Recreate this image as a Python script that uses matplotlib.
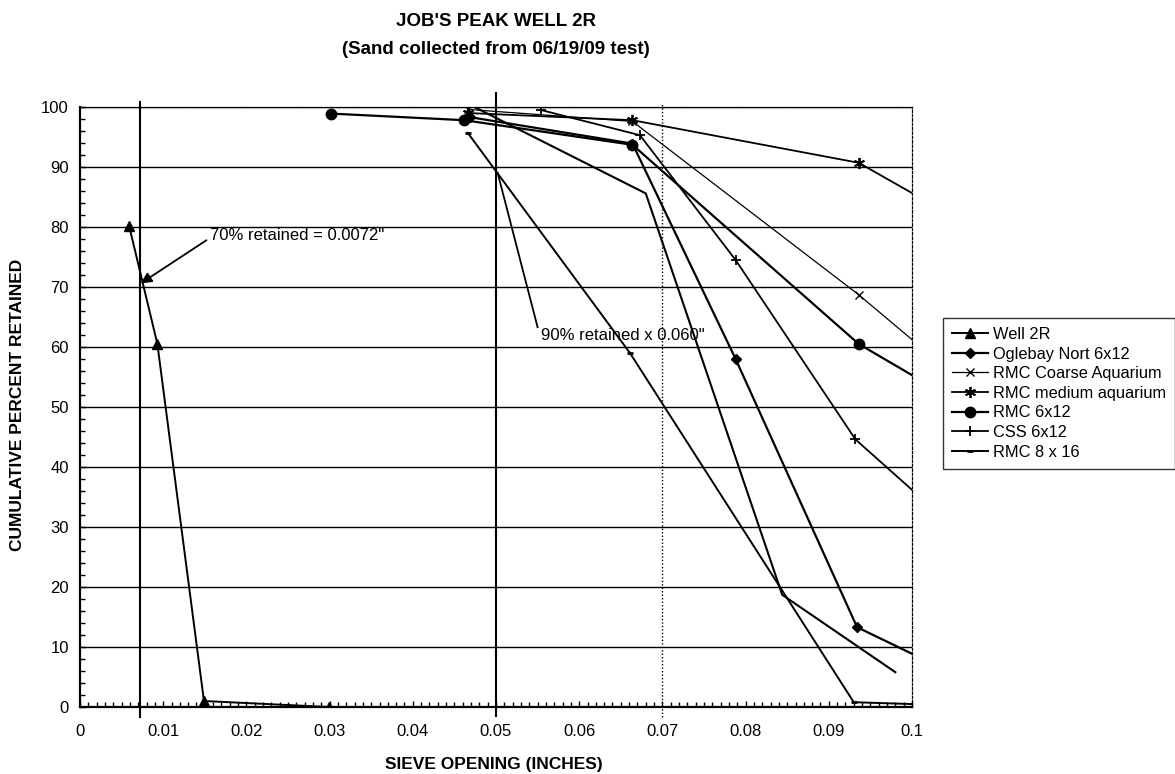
import matplotlib
matplotlib.use("Agg")
import matplotlib.pyplot as plt
from matplotlib.ticker import FixedLocator, MultipleLocator

plt.rcParams["font.family"] = ["Liberation Sans", "DejaVu Sans"]

# sieve opening (inches) vs cumulative percent retained
well_2r_x = [0.0059, 0.0093, 0.0149, 0.0299]
well_2r_y = [80.2, 60.5, 1.0, 0.0]

oglebay_x = [0.0469, 0.0664, 0.0788, 0.0934, 0.111]
oglebay_y = [98.3, 93.9, 58.0, 13.3, 1.5]

rmc_coarse_x = [0.0466, 0.0664, 0.0936, 0.111]
rmc_coarse_y = [99.6, 97.6, 68.7, 48.4]

rmc_medium_x = [0.0466, 0.0664, 0.0936, 0.111]
rmc_medium_y = [99.0, 97.8, 90.7, 77.0]

rmc_6x12_x = [0.0302, 0.0462, 0.0664, 0.0936, 0.111]
rmc_6x12_y = [98.9, 97.8, 93.7, 60.5, 46.4]

css_6x12_x = [0.0554, 0.0673, 0.0788, 0.0932, 0.111]
css_6x12_y = [99.5, 95.3, 74.5, 44.6, 22.6]

rmc_8x16_x = [0.0466, 0.0661, 0.0930, 0.111]
rmc_8x16_y = [95.7, 59.0, 0.8, 0.0]

# unlabelled curve on the original sheet
extra_x = [0.0474, 0.0680, 0.0844, 0.0980]
extra_y = [100.0, 85.6, 18.7, 5.8]

x_ticks = [0.0, 0.01, 0.02, 0.03, 0.04, 0.05, 0.06, 0.07, 0.08, 0.09, 0.1]
x_tick_labels = ["0", "0.01", "0.02", "0.03", "0.04", "0.05", "0.06", "0.07", "0.08", "0.09", "0.1"]
y_ticks = [0, 10, 20, 30, 40, 50, 60, 70, 80, 90, 100]

d70_x = 0.0072
d90_x = 0.050
guide_x = 0.070


def draw_series(ax):
    handles = []
    series = [
        ("Well 2R", well_2r_x, well_2r_y, dict(marker="^", ms=6.5, lw=1.4)),
        ("Oglebay Nort 6x12", oglebay_x, oglebay_y, dict(marker="D", ms=5, lw=1.6)),
        ("RMC Coarse Aquarium", rmc_coarse_x, rmc_coarse_y, dict(marker="x", ms=6, mew=1.0, lw=0.9)),
        ("RMC medium aquarium", rmc_medium_x, rmc_medium_y, dict(marker=(6, 2, 0), ms=8, mew=1.3, lw=1.3)),
        ("RMC 6x12", rmc_6x12_x, rmc_6x12_y, dict(marker="o", ms=7.5, lw=1.6)),
        ("CSS 6x12", css_6x12_x, css_6x12_y, dict(marker="+", ms=7, mew=1.3, lw=1.3)),
        ("RMC 8 x 16", rmc_8x16_x, rmc_8x16_y, dict(marker="_", ms=5, mew=2.0, lw=1.4)),
    ]
    for label, xs, ys, style in series:
        (ln,) = ax.plot(xs, ys, color="black", label=label, **style)
        handles.append(ln)

    ax.plot(extra_x, extra_y, color="black", lw=1.5)
    return handles


def draw_guides(ax):
    # vertical reference lines (they run a little past the plot frame)
    ax.plot([d70_x, d70_x], [-1.7, 100.8], color="black", lw=1.5, clip_on=False)
    ax.plot([d90_x, d90_x], [-1.5, 102.3], color="black", lw=1.5, clip_on=False)
    ax.plot([guide_x, guide_x], [-1.7, 100.7], color="black", lw=1.0,
            linestyle=(0, (1, 1.5)), clip_on=False)

    ax.annotate(
        "",
        xy=(0.0073, 70.6),
        xytext=(0.0152, 77.8),
        arrowprops=dict(arrowstyle="-|>", color="black", lw=1.3, mutation_scale=16,
                        shrinkA=0, shrinkB=0),
    )
    ax.text(0.0156, 78.6, "70% retained = 0.0072\"", fontsize=12, va="center", ha="left")

    ax.plot([0.0550, 0.0502], [63.3, 89.0], color="black", lw=1.3)
    ax.text(0.0554, 62.0, "90% retained x 0.060\"", fontsize=12, va="center", ha="left")


def style_axes(ax):
    ax.set_xlim(0, 0.1)
    ax.set_ylim(0, 100)

    ax.xaxis.set_major_locator(FixedLocator(x_ticks))
    ax.set_xticklabels(x_tick_labels)
    ax.yaxis.set_major_locator(FixedLocator(y_ticks))
    ax.xaxis.set_minor_locator(MultipleLocator(0.001))
    ax.yaxis.set_minor_locator(MultipleLocator(2))

    ax.tick_params(axis="both", which="major", direction="in", length=4, width=1.0,
                   labelsize=12)
    ax.tick_params(axis="both", which="minor", direction="in", length=3.5, width=1.0)
    ax.tick_params(axis="x", which="major", pad=12)
    ax.tick_params(axis="y", which="major", pad=8)

    ax.yaxis.grid(True, color="black", lw=1.0)
    ax.set_axisbelow(True)

    ax.spines["left"].set_linewidth(1.6)
    ax.spines["bottom"].set_linewidth(1.6)
    ax.spines["top"].set_linewidth(0.9)
    ax.spines["top"].set_linestyle((0, (6, 1.5)))
    ax.spines["right"].set_linewidth(0.9)
    ax.spines["right"].set_linestyle((0, (2, 1.5)))


def main() -> None:
    fig = plt.figure(figsize=(11.75, 7.74), dpi=100)
    ax = fig.add_axes([80 / 1175, 1 - 707 / 774, 832 / 1175, 600 / 774])

    handles = draw_series(ax)
    draw_guides(ax)
    style_axes(ax)

    fig.text(496 / 1175, 1 - 22 / 774, "JOB'S PEAK WELL 2R", ha="center", va="center",
             fontsize=13.5, fontweight="bold")
    fig.text(496 / 1175, 1 - 50 / 774, "(Sand collected from 06/19/09 test)", ha="center",
             va="center", fontsize=13.5, fontweight="bold")
    fig.text(494 / 1175, 1 - 764 / 774, "SIEVE OPENING (INCHES)", ha="center", va="center",
             fontsize=12.5, fontweight="bold")
    fig.text(18 / 1175, 1 - 405 / 774, "CUMULATIVE PERCENT RETAINED", ha="center",
             va="center", rotation=90, fontsize=12.5, fontweight="bold")

    leg = fig.legend(
        handles=handles,
        loc="upper left",
        bbox_to_anchor=(943 / 1175, 1 - 318 / 774),
        fontsize=11.8,
        frameon=True,
        fancybox=False,
        edgecolor="black",
        handlelength=2.2,
        handletextpad=0.3,
        labelspacing=0.28,
        borderpad=0.55,
        borderaxespad=0,
    )
    leg.get_frame().set_linewidth(1.0)

    fig.savefig("out.png", dpi=100, facecolor="white")
    plt.close(fig)


if __name__ == "__main__":
    main()
